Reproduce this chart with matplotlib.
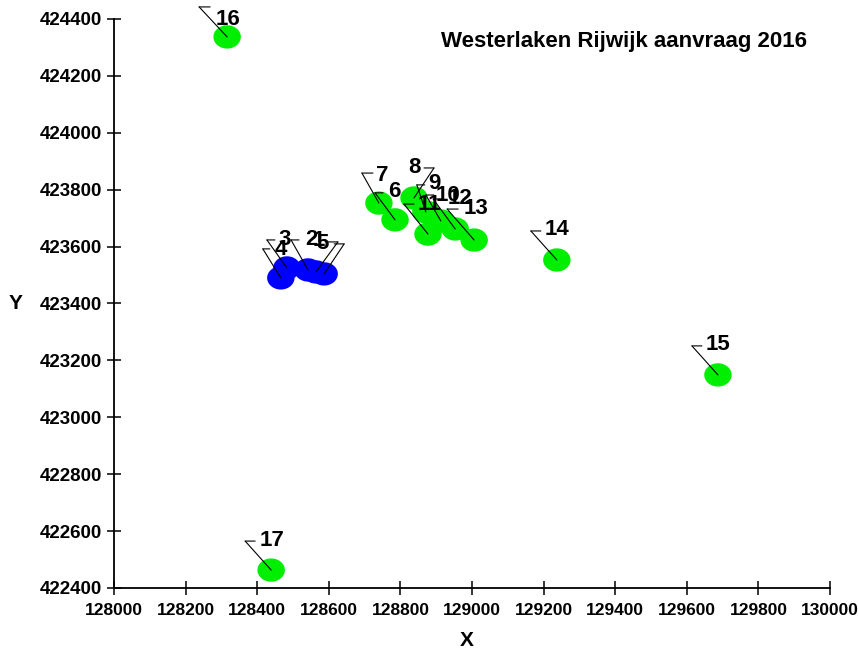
import numpy as np
import matplotlib.pyplot as plt
import matplotlib.path as mpath
from matplotlib.transforms import offset_copy

plt.rcParams['font.family'] = ['Liberation Sans', 'DejaVu Sans']

# point data
labels = ['1', '2', '3', '4', '5', '6', '7', '8', '9', '10', '11', '12', '13', '14', '15', '16', '17']
xs = [128564, 128542, 128483, 128466, 128587, 128785, 128740, 128838, 128871, 128913, 128877, 128953, 129006,
      129237, 129687, 128316, 128439]
ys = [423511, 423518, 423525, 423490, 423504, 423694, 423753, 423771, 423722, 423690, 423644, 423662, 423623,
      423553, 423149, 424337, 422463]
groups = ['b'] * 5 + ['g'] * 12

xticks = list(range(128000, 130001, 200))
yticks = list(range(422400, 424401, 200))

# leader layout per label, pixels: corner, end of horizontal piece, text pos, alignment
default = ((-26, 29), (-16, 29), (-12, 30), 'left')
leaders = {
    '1': ((22, 30), (12, 30), (-3, 31), 'left'),
    '2': ((-17, 30), (-9, 30), (-3, 30), 'left'),
    '3': ((-20, 28), (-12, 28), (-8, 28), 'left'),
    '4': ((-18, 29), (-11, 29), (-6, 28), 'left'),
    '5': ((20, 30), (10, 30), (-8, 30), 'left'),
    '6': ((-20, 27), (-12, 27), (-7, 28), 'left'),
    '7': ((-17, 30), (-6, 30), (-3, 28), 'left'),
    '8': ((20, 30), (10, 30), (7, 30), 'right'),
    '9': ((-9, 27), (-1, 27), (2, 28), 'left'),
    '10': ((-15, 26), (-7, 26), (-5, 25), 'left'),
    '11': ((-24, 30), (-14, 30), (-10, 30), 'left'),
    '12': ((-22, 30), (-12, 30), (-8, 30), 'left'),
    '13': ((-27, 31), (-16, 31), (-11, 32), 'left'),
    '16': ((-28, 30), (-17, 30), (-12, 17), 'left'),
}

fig = plt.figure(figsize=(8.59, 6.54), dpi=100)
ax = fig.add_axes([114 / 859, 1 - 588 / 654, (830 - 114) / 859, (588 - 19) / 654])
ax.set_xlim(128000, 130000)
ax.set_ylim(422400, 424400)

# slightly flat circle marker
t = np.linspace(0, 2 * np.pi, 60)
ell = mpath.Path(np.column_stack([np.cos(t), 0.85 * np.sin(t)]), closed=True)

cols = {'b': '#0000ff', 'g': '#00ee00'}
for g in ['b', 'g']:
    gx = [x for x, k in zip(xs, groups) if k == g]
    gy = [y for y, k in zip(ys, groups) if k == g]
    ax.scatter(gx, gy, s=390, marker=ell, color=cols[g], edgecolors='none', zorder=2)

for lab, x, y in zip(labels, xs, ys):
    (cx, cy), (hx, hy), (tx, ty), ha = leaders.get(lab, default)
    ax.annotate('', xy=(x, y), xytext=(cx, cy), textcoords='offset pixels',
                arrowprops=dict(arrowstyle='-', color='black', lw=0.8, shrinkA=0, shrinkB=0), zorder=3)
    tr = offset_copy(ax.transData, fig=fig, x=cx, y=cy, units='dots')
    ax.annotate('', xy=(x, y), xycoords=tr, xytext=(hx - cx, hy - cy), textcoords='offset pixels',
                arrowprops=dict(arrowstyle='-', color='black', lw=0.8, shrinkA=0, shrinkB=0), zorder=3)
    ax.annotate(lab, xy=(x, y), xytext=(tx, ty), textcoords='offset pixels', ha=ha, va='center',
                fontsize=16, fontweight='bold', zorder=4)

ax.spines['top'].set_visible(False)
ax.spines['right'].set_visible(False)
ax.spines['left'].set_linewidth(1.3)
ax.spines['bottom'].set_linewidth(1.3)
ax.set_xticks(xticks)
ax.set_yticks(yticks)
ax.tick_params(direction='inout', length=10, width=1.1)
ax.tick_params(axis='x', labelsize=12.5, pad=6)
ax.tick_params(axis='y', labelsize=13.5)
for lb in ax.get_xticklabels() + ax.get_yticklabels():
    lb.set_fontweight('bold')

ax.set_xlabel('X', fontsize=15, fontweight='bold', va='center')
ax.xaxis.set_label_coords(0.492, -53 / 569)
ax.set_ylabel('Y', fontsize=15, fontweight='bold', rotation=0, va='center')
ax.yaxis.set_label_coords(-98 / 716, 0.5)
ax.text(624 / 859, 1 - 42 / 654, 'Westerlaken Rijwijk aanvraag 2016', transform=fig.transFigure,
        ha='center', va='center', fontsize=16, fontweight='bold')

fig.savefig('out.png', dpi=100)
